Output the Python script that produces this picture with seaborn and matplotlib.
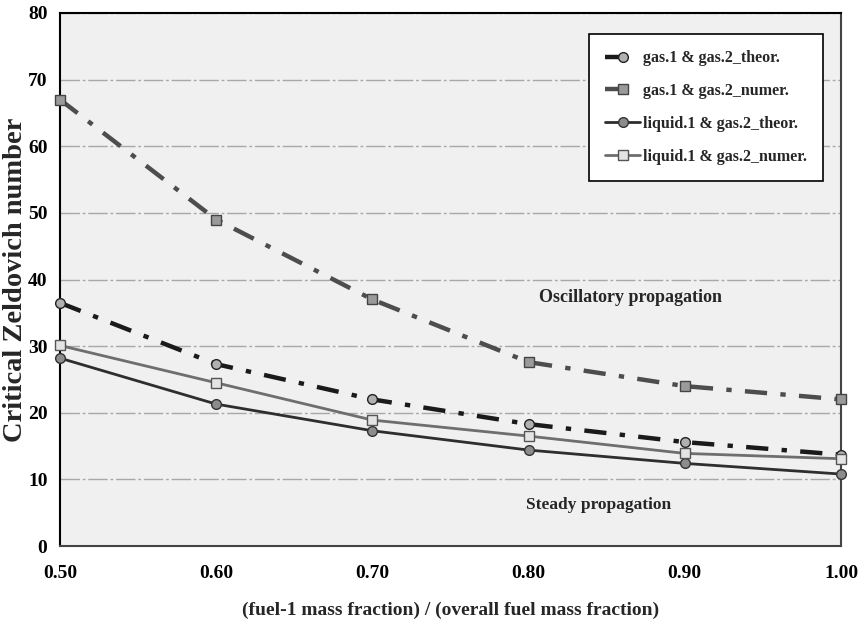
import matplotlib
matplotlib.use('Agg')
import matplotlib.pyplot as plt
import seaborn as sns
import pandas as pd

# fraction of fuel-1 in the overall fuel
fraction = [0.50, 0.60, 0.70, 0.80, 0.90, 1.00]

# critical Zeldovich numbers
gas_theor = [36.5, 27.3, 22.0, 18.3, 15.6, 13.7]
gas_numer = [67.0, 49.0, 37.0, 27.6, 24.0, 22.0]
liq_theor = [28.2, 21.3, 17.3, 14.4, 12.4, 10.8]
liq_numer = [30.1, 24.5, 18.9, 16.5, 13.9, 13.1]

labels = ['gas.1 & gas.2_theor.', 'gas.1 & gas.2_numer.',
          'liquid.1 & gas.2_theor.', 'liquid.1 & gas.2_numer.']
xticks = [0.50, 0.60, 0.70, 0.80, 0.90, 1.00]
yticks = [0, 10, 20, 30, 40, 50, 60, 70, 80]

df = pd.DataFrame({'fraction': fraction, labels[0]: gas_theor, labels[1]: gas_numer,
                   labels[2]: liq_theor, labels[3]: liq_numer})

sns.set_style('white')
plt.rcParams['font.family'] = ['Liberation Serif', 'DejaVu Serif']
plt.rcParams['font.weight'] = 'bold'

fig = plt.figure(figsize=(8.64, 6.33), dpi=100)
ax = fig.add_axes([0.0694, 0.1374, 0.904, 0.8421])
ax.set_facecolor('#f0f0f0')

# line styles per series
styles = {
    labels[0]: dict(color='#1a1a1a', lw=3.2, ls=(0, (5, 3, 1.2, 3)), marker='o',
                    mfc='#b0b0b0', mec='#222222'),
    labels[1]: dict(color='#4d4d4d', lw=3.2, ls=(0, (5, 3, 1.2, 3)), marker='s',
                    mfc='#9a9a9a', mec='#444444'),
    labels[2]: dict(color='#2e2e2e', lw=2.0, ls='-', marker='o',
                    mfc='#8c8c8c', mec='#333333'),
    labels[3]: dict(color='#6e6e6e', lw=2.0, ls='-', marker='s',
                    mfc='#e4e4e4', mec='#555555'),
}

for name in labels:
    st = styles[name]
    sns.lineplot(data=df, x='fraction', y=name, ax=ax, label=name,
                 color=st['color'], linewidth=st['lw'], linestyle=st['ls'],
                 marker=st['marker'], markersize=7, markerfacecolor=st['mfc'],
                 markeredgecolor=st['mec'], markeredgewidth=1.0, clip_on=False,
                 zorder=3)

ax.set_xlim(0.5, 1.0)
ax.set_ylim(0, 80)
ax.set_xticks(xticks)
ax.set_xticklabels(['%.2f' % v for v in xticks])
ax.set_yticks(yticks)
ax.grid(axis='y', color='#a8a8a8', linestyle=(0, (14, 2, 2, 2)), linewidth=1.0)
ax.grid(axis='x', visible=False)
ax.tick_params(axis='both', direction='out', length=6, width=1.2, labelsize=14,
               colors='black', pad=8)
ax.tick_params(axis='y', pad=3)
for side in ['left', 'top']:
    ax.spines[side].set_color('black')
    ax.spines[side].set_linewidth(1.5)
for side in ['bottom', 'right']:
    ax.spines[side].set_color('#444444')
    ax.spines[side].set_linewidth(1.5)

ax.set_xlabel('(fuel-1 mass fraction) / (overall fuel mass fraction)',
              fontsize=14, fontweight='bold', labelpad=14)
ax.set_ylabel('Critical Zeldovich number', fontsize=20.5, fontweight='bold',
              labelpad=0)

ax.text(0.865, 37.3, 'Oscillatory propagation', fontsize=13, fontweight='bold',
        ha='center', va='center')
ax.text(0.845, 6.2, 'Steady propagation', fontsize=12.5, fontweight='bold',
        ha='center', va='center')

leg = ax.legend(loc='upper right', bbox_to_anchor=(0.9875, 0.975), fontsize=11.5,
                frameon=True, fancybox=False, framealpha=1, edgecolor='black',
                handlelength=2.2, labelspacing=1.05, borderpad=1.0,
                handletextpad=0.2)
leg.get_frame().set_linewidth(1.2)

fig.savefig('out.png', dpi=100, facecolor='white')
